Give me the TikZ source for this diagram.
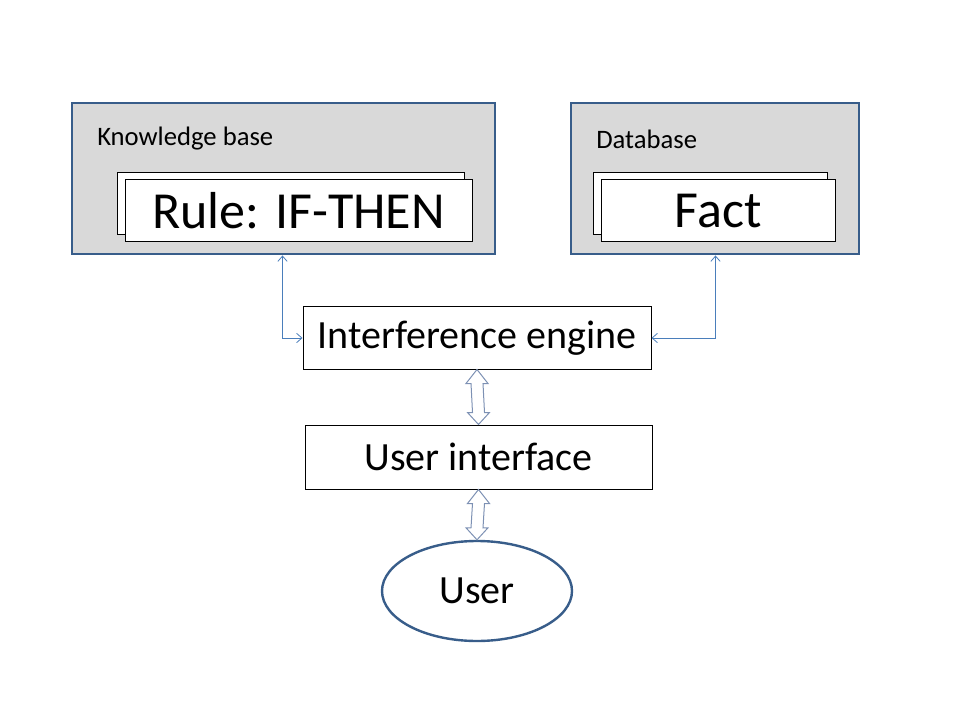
\documentclass[tikz,border=0pt]{standalone}
\usepackage{fontspec}
\setmainfont{Carlito}
\usetikzlibrary{positioning,fit,calc,arrows.meta,shapes.geometric,shadows}
\definecolor{frameblue}{RGB}{56,93,138}
\definecolor{boxgray}{RGB}{217,217,217}
\definecolor{linkblue}{RGB}{74,126,187}
\definecolor{bigarrow}{RGB}{125,145,180}

\begin{document}
\begin{tikzpicture}[
    x=0.75pt, y=-0.75pt,
    storebox/.style={fill=boxgray, draw=frameblue, line width=2.2pt, inner sep=0pt},
    card/.style={fill=white, draw=black, line width=0.75pt, minimum height=46.5pt,
        inner sep=0pt, font=\fontsize{39}{42}\selectfont,
        copy shadow={shadow xshift=-6pt, shadow yshift=5.25pt, fill=white, draw=black}},
    unit/.style={draw=black, line width=0.75pt, inner sep=0pt,
        font=\fontsize{30}{34}\selectfont},
    userbox/.style={ellipse, draw=frameblue, line width=1.8pt, inner sep=0pt,
        minimum width=142.5pt, minimum height=75pt, font=\fontsize{30}{34}\selectfont},
    boxlbl/.style={anchor=west, inner sep=0pt, font=\fontsize{20}{24}\selectfont},
    link/.style={{Straight Barb[length=4pt,width=7pt]}-{Straight Barb[length=4pt,width=7pt]},
        draw=linkblue, line width=0.6pt},
    dblarrow/.style={draw=bigarrow, fill=white, line width=0.75pt, line join=miter},
]
\useasboundingbox (0,0) rectangle (960,720);

% stores
\node[storebox, fit={(72,103) (495,254)}] (kb) {};
\node[storebox, fit={(571,103) (859,254)}] (db) {};
\node[boxlbl] (kblbl) at (97,139) {Knowledge base};
\node[boxlbl] (dblbl) at (596,139) {Database};
\node[card, minimum width=260.25pt] (rule) at (298.5,211) {Rule: IF-THEN};
\node[card, minimum width=175.5pt] (fact) at (718,211) {Fact};

% engine and interface
\node[unit, minimum width=261pt, minimum height=46.5pt] (engine) at (477,338) {Interference engine};
\node[unit, minimum width=260.25pt, minimum height=48pt] (ui) at (478.5,457) {User interface};
\node[userbox] (user) at (477,591) {User};

% thin links
\coordinate (kbin) at ([xshift=-15pt]engine.west |- kb.south);
\coordinate (dbin) at ([xshift=48pt]engine.east |- db.south);
\draw[link] (engine.west) -| (kbin);
\draw[link] (engine.east) -| (dbin);

% block arrows
\draw[dblarrow] (engine.south) -- ($(engine.south)+(11,14)$) -- ($(engine.south)+(6,14)$)
    -- ($(ui.north)+(6,-12)$) -- ($(ui.north)+(11,-12)$) -- (ui.north)
    -- ($(ui.north)+(-11,-12)$) -- ($(ui.north)+(-6,-12)$)
    -- ($(engine.south)+(-6,14)$) -- ($(engine.south)+(-11,14)$) -- cycle;
\draw[dblarrow] (ui.south) -- ($(ui.south)+(11,14)$) -- ($(ui.south)+(6,14)$)
    -- ($(user.north)+(6,-12)$) -- ($(user.north)+(11,-12)$) -- (user.north)
    -- ($(user.north)+(-11,-12)$) -- ($(user.north)+(-6,-12)$)
    -- ($(ui.south)+(-6,14)$) -- ($(ui.south)+(-11,14)$) -- cycle;
\end{tikzpicture}
\end{document}
